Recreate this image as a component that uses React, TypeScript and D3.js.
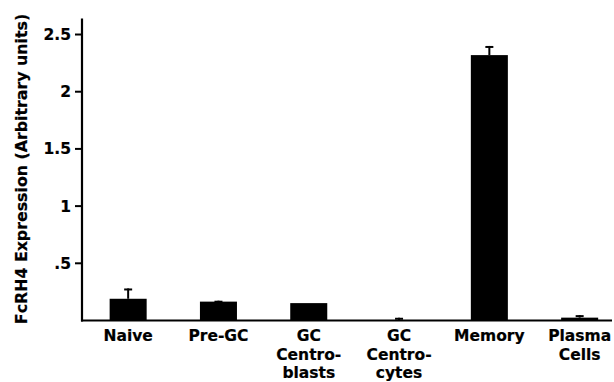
import React from "react";
import * as d3 from "d3";

const categories: string[][] = [
  ["Naive"],
  ["Pre-GC"],
  ["GC", "Centro-", "blasts"],
  ["GC", "Centro-", "cytes"],
  ["Memory"],
  ["Plasma", "Cells"],
];
const values: number[] = [0.19, 0.165, 0.152, 0.004, 2.32, 0.025];
const errors: number[] = [0.09, 0.008, 0, 0.02, 0.08, 0.022];
const yTicks: number[] = [0.5, 1, 1.5, 2, 2.5];
const yTickLabels: string[] = [".5", "1", "1.5", "2", "2.5"];
const yTitle = "FcRH4 Expression (Arbitrary units)";

const W = 614;
const H = 382;
const FONT = "'DejaVu Sans', sans-serif";
const textStyle = {
  fontFamily: FONT,
  fontWeight: "bold" as const,
  stroke: "#000",
  strokeWidth: 0.2,
};

export default function App() {
  const keys = categories.map((c) => c.join(" "));
  const x = d3
    .scaleBand<string>()
    .domain(keys)
    .range([83, 83 + 6 * 90.3])
    .paddingInner(0.59)
    .paddingOuter(0.295);
  const y = d3.scaleLinear().domain([0, 2.64]).range([320.5, 18.5]);
  const axisX = 82;
  const y0 = y(0);
  const bw = x.bandwidth();
  const capW = 8;

  return (
    <svg
      width={W}
      height={H}
      style={{ position: "absolute", left: 0, top: 0, background: "#fff" }}
    >
      {values.map((v, i) => {
        const x0 = x(keys[i])!;
        const cx = x0 + bw / 2;
        const top = y(v);
        const eTop = y(v + errors[i]);
        return (
          <g key={i}>
            <rect x={x0} y={top} width={bw} height={y0 - top} fill="#000" />
            {errors[i] > 0 && (
              <g stroke="#000" strokeWidth={2}>
                <line x1={cx} x2={cx} y1={top} y2={eTop} />
                <line x1={cx - capW / 2} x2={cx + capW / 2} y1={eTop + 1} y2={eTop + 1} />
              </g>
            )}
          </g>
        );
      })}
      <line x1={axisX} x2={axisX} y1={y(2.64)} y2={y0 + 1} stroke="#000" strokeWidth={2.2} />
      <line x1={axisX - 1} x2={612} y1={y0} y2={y0} stroke="#000" strokeWidth={2.2} />
      {yTicks.map((t, i) => (
        <g key={t}>
          <line x1={axisX - 7} x2={axisX} y1={y(t)} y2={y(t)} stroke="#000" strokeWidth={2} />
          <text
            x={axisX - 11}
            y={y(t)}
            dy="0.36em"
            textAnchor="end"
            fontSize={15.5}
            style={textStyle}
          >
            {yTickLabels[i]}
          </text>
        </g>
      ))}
      {categories.map((lines, i) => {
        const cx = x(keys[i])! + bw / 2;
        return (
          <text key={i} textAnchor="middle" fontSize={15.5} style={textStyle}>
            {lines.map((l, j) => (
              <tspan key={j} x={cx} y={341 + j * 18.5}>
                {l}
              </tspan>
            ))}
          </text>
        );
      })}
      <text
        transform={`translate(26.5,169) rotate(-90)`}
        textAnchor="middle"
        fontSize={15.8}
        style={textStyle}
      >
        {yTitle}
      </text>
    </svg>
  );
}
